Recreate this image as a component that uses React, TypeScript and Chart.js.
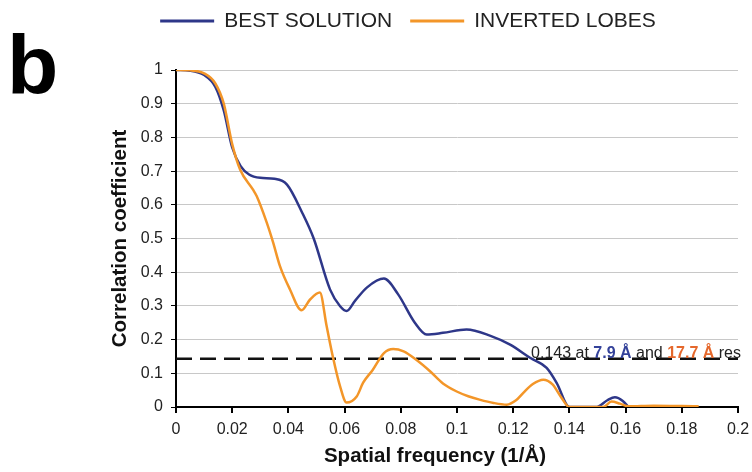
import React, { useEffect, useRef } from "react";
import { Chart, registerables } from "chart.js";

Chart.register(...registerables);

// ---- data ----
const FREQ_BEST = [0, 0.005, 0.01, 0.014, 0.017, 0.02, 0.023, 0.026, 0.03, 0.035, 0.0395, 0.045, 0.049, 0.0548, 0.0584, 0.0607, 0.0637, 0.068, 0.074, 0.079, 0.085, 0.0892, 0.095, 0.1034, 0.1117, 0.1189, 0.126, 0.1319, 0.1355, 0.14, 0.1497, 0.1535, 0.1562, 0.159, 0.161];
const CC_BEST = [1.0, 0.998, 0.985, 0.95, 0.88, 0.77, 0.715, 0.69, 0.68, 0.677, 0.66, 0.575, 0.5, 0.349, 0.299, 0.285, 0.315, 0.355, 0.381, 0.335, 0.25, 0.215, 0.22, 0.23, 0.212, 0.185, 0.146, 0.116, 0.071, 0, 0, 0.02, 0.029, 0.018, 0];

const FREQ_INV = [0, 0.005, 0.01, 0.014, 0.017, 0.02, 0.0228, 0.0274, 0.0287, 0.0323, 0.0345, 0.037, 0.0406, 0.0447, 0.0477, 0.0512, 0.0536, 0.0559, 0.0584, 0.0607, 0.0643, 0.0666, 0.07, 0.074, 0.0773, 0.081, 0.0855, 0.0904, 0.095, 0.0999, 0.104, 0.108, 0.113, 0.1177, 0.121, 0.1236, 0.127, 0.1307, 0.134, 0.137, 0.14, 0.152, 0.155, 0.158, 0.161, 0.17, 0.18, 0.186];
const CC_INV = [1.0, 0.999, 0.99, 0.96, 0.9, 0.78, 0.705, 0.645, 0.626, 0.547, 0.49, 0.418, 0.348, 0.287, 0.319, 0.34, 0.24, 0.146, 0.061, 0.013, 0.031, 0.072, 0.11, 0.16, 0.172, 0.165, 0.14, 0.106, 0.07, 0.046, 0.032, 0.022, 0.012, 0.007, 0.02, 0.042, 0.068, 0.081, 0.067, 0.03, 0, 0, 0.016, 0.01, 0.002, 0.004, 0.003, 0.002];

const X_TICKS = [0, 0.02, 0.04, 0.06, 0.08, 0.1, 0.12, 0.14, 0.16, 0.18, 0.2];
const Y_TICKS = [0, 0.1, 0.2, 0.3, 0.4, 0.5, 0.6, 0.7, 0.8, 0.9, 1];

const SERIES_LABELS = ["BEST SOLUTION", "INVERTED LOBES"];
const THRESHOLD = 0.143;
const RES_BEST = "7.9 Å";
const RES_INV = "17.7 Å";
const PANEL_LETTER = "b";
const X_TITLE = "Spatial frequency (1/Å)";
const Y_TITLE = "Correlation coefficient";

// ---- styles ----
const BLUE = "#2e3789";
const ORANGE = "#f39629";
const BLUE_TXT = "#34429a";
const ORANGE_TXT = "#e5682c";
const FONT = "'Liberation Sans', Arial, Helvetica, sans-serif";
const TEXT = "#222222";

const toPts = (xs: number[], ys: number[]) => xs.map((x, i) => ({ x, y: ys[i] }));

const overlayPlugin = {
  id: "overlay",
  afterDraw(chart: any) {
    const ctx = chart.ctx as CanvasRenderingContext2D;
    const { y } = chart.scales;
    ctx.save();

    // panel letter
    ctx.fillStyle = "#000";
    ctx.font = `bold 84px ${FONT}`;
    ctx.textAlign = "left";
    ctx.textBaseline = "alphabetic";
    ctx.fillText(PANEL_LETTER, 7, 94);

    // legend
    ctx.font = `21px ${FONT}`;
    ctx.textBaseline = "middle";
    const lineLen = 54;
    const gap = 10;
    const itemGap = 18;
    const items = [
      { label: SERIES_LABELS[0], color: BLUE },
      { label: SERIES_LABELS[1], color: ORANGE },
    ];
    const widths = items.map((it) => ctx.measureText(it.label).width);
    const total = widths.reduce((a, w) => a + lineLen + gap + w, 0) + itemGap;
    let cx = 408 - total / 2;
    const ly = 21;
    items.forEach((it, i) => {
      ctx.strokeStyle = it.color;
      ctx.lineWidth = 3;
      ctx.beginPath();
      ctx.moveTo(cx, ly);
      ctx.lineTo(cx + lineLen, ly);
      ctx.stroke();
      cx += lineLen + gap;
      ctx.fillStyle = TEXT;
      ctx.fillText(it.label, cx, ly);
      cx += widths[i] + itemGap;
    });

    // threshold annotation
    const segs = [
      { t: `${THRESHOLD} at `, c: TEXT, b: false },
      { t: RES_BEST, c: BLUE_TXT, b: true },
      { t: " and ", c: TEXT, b: false },
      { t: RES_INV, c: ORANGE_TXT, b: true },
      { t: " res", c: TEXT, b: false },
    ];
    ctx.textBaseline = "alphabetic";
    const fnt = (b: boolean) => `${b ? "bold " : ""}16px ${FONT}`;
    const sw = segs.map((s) => {
      ctx.font = fnt(s.b);
      return ctx.measureText(s.t).width;
    });
    let ax = 741 - sw.reduce((a, b) => a + b, 0);
    const ay = y.getPixelForValue(THRESHOLD) - 1;
    segs.forEach((s, i) => {
      ctx.font = fnt(s.b);
      ctx.fillStyle = s.c;
      ctx.fillText(s.t, ax, ay);
      ax += sw[i];
    });

    // x axis title
    ctx.font = `bold 20.5px ${FONT}`;
    ctx.fillStyle = "#111";
    ctx.textAlign = "center";
    ctx.textBaseline = "middle";
    ctx.fillText(X_TITLE, 435, 456);

    ctx.restore();
  },
};

export default function App() {
  const ref = useRef<HTMLCanvasElement | null>(null);

  useEffect(() => {
    document.body.style.margin = "0";
    const canvas = ref.current;
    if (!canvas) return;
    const chart = new Chart(canvas, {
      type: "line",
      data: {
        datasets: [
          {
            label: SERIES_LABELS[1],
            data: toPts(FREQ_INV, CC_INV),
            borderColor: ORANGE,
            backgroundColor: ORANGE,
            borderWidth: 2.5,
            pointRadius: 0,
            cubicInterpolationMode: "monotone",
            order: 0,
          },
          {
            label: SERIES_LABELS[0],
            data: toPts(FREQ_BEST, CC_BEST),
            borderColor: BLUE,
            backgroundColor: BLUE,
            borderWidth: 2.5,
            pointRadius: 0,
            cubicInterpolationMode: "monotone",
            order: 1,
          },
          {
            label: "threshold",
            data: [
              { x: X_TICKS[0], y: THRESHOLD },
              { x: X_TICKS[X_TICKS.length - 1], y: THRESHOLD },
            ],
            borderColor: "#111",
            borderWidth: 2.5,
            borderDash: [16, 8],
            pointRadius: 0,
            order: 2,
          },
        ],
      },
      options: {
        responsive: false,
        animation: false,
        devicePixelRatio: 1,
        layout: { padding: { left: 0, right: 14, top: 70, bottom: 0 } },
        plugins: {
          legend: { display: false },
          tooltip: { enabled: false },
        },
        scales: {
          x: {
            type: "linear",
            min: 0,
            max: 0.2,
            afterBuildTicks: (s: any) => {
              s.ticks = X_TICKS.map((v) => ({ value: v }));
            },
            afterFit: (s: any) => {
              s.height = 65;
              s.paddingRight = 0;
              s.paddingLeft = 0;
            },
            ticks: {
              autoSkip: false,
              maxRotation: 0,
              padding: 7,
              color: TEXT,
              font: { family: FONT, size: 16 },
              callback: (v: any) => String(Math.round(Number(v) * 100) / 100),
            },
            grid: {
              drawOnChartArea: false,
              drawTicks: true,
              tickLength: 6,
              tickColor: "#000",
              lineWidth: 2,
            },
            border: { display: true, color: "#000", width: 2 },
          },
          y: {
            type: "linear",
            min: 0,
            max: 1,
            afterBuildTicks: (s: any) => {
              s.ticks = Y_TICKS.map((v) => ({ value: v }));
            },
            afterFit: (s: any) => {
              s.width = 176;
            },
            ticks: {
              padding: 8,
              color: TEXT,
              font: { family: FONT, size: 16 },
              callback: (v: any) => String(Math.round(Number(v) * 10) / 10),
            },
            grid: {
              color: "#c8c8c8",
              lineWidth: 1,
              tickColor: "#000",
              tickLength: 5,
            },
            border: { display: true, color: "#000", width: 2 },
            title: {
              display: true,
              text: Y_TITLE,
              color: "#111",
              font: { family: FONT, size: 20.5, weight: "bold" },
              padding: { top: 108, bottom: 0 },
            },
          },
        },
      },
      plugins: [overlayPlugin],
    });
    return () => chart.destroy();
  }, []);

  return (
    <div style={{ width: 752, height: 472, background: "#fff" }}>
      <canvas ref={ref} width={752} height={472} style={{ display: "block", width: 752, height: 472 }} />
    </div>
  );
}
